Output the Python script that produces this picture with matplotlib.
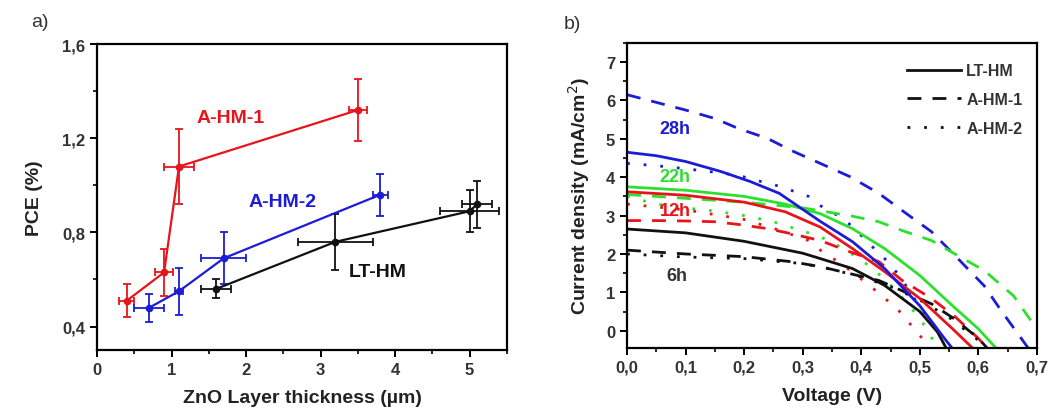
import matplotlib
matplotlib.use("Agg")
import matplotlib.pyplot as plt
from matplotlib.ticker import MultipleLocator

plt.rcParams.update({
    'font.family': ['Liberation Sans', 'DejaVu Sans'],
    'font.size': 11,
    'axes.linewidth': 1.6,
    'xtick.direction': 'out',
    'ytick.direction': 'out',
    'xtick.major.width': 1.4,
    'ytick.major.width': 1.4,
    'xtick.minor.width': 1.2,
    'ytick.minor.width': 1.2,
    'xtick.major.size': 5,
    'ytick.major.size': 5,
    'xtick.minor.size': 3,
    'ytick.minor.size': 3,
})

RED = '#e8141b'
BLUE = '#1c1cd6'
GREEN = '#2ee02e'
BLACK = '#111111'

# ---- panel a data: PCE vs ZnO thickness ----
hm1_x = [0.4, 0.9, 1.1, 3.5]
hm1_y = [0.51, 0.63, 1.08, 1.32]
hm1_xerr = [0.1, 0.12, 0.2, 0.12]
hm1_yerr = [0.07, 0.10, 0.16, 0.13]

hm2_x = [0.7, 1.1, 1.7, 3.8]
hm2_y = [0.48, 0.55, 0.69, 0.96]
hm2_xerr = [0.2, 0.05, 0.3, 0.1]
hm2_yerr = [0.06, 0.10, 0.11, 0.09]

lt_x = [1.6, 3.2, 5.0, 5.1]
lt_y = [0.56, 0.76, 0.89, 0.92]
lt_xerr = [0.2, 0.5, 0.4, 0.2]
lt_yerr = [0.04, 0.12, 0.09, 0.10]

# ---- panel b data: J-V curves ----
lt6_v = [0, 0.1, 0.2, 0.3, 0.33, 0.385, 0.44, 0.5, 0.53, 0.545]
lt6_j = [2.65, 2.55, 2.33, 2.02, 1.88, 1.62, 1.18, 0.5, -0.03, -0.45]
hm1_6_v = [0, 0.1, 0.2, 0.28, 0.33, 0.43, 0.47, 0.52, 0.56, 0.6, 0.615]
hm1_6_j = [2.1, 2.0, 1.93, 1.8, 1.67, 1.31, 1.04, 0.7, 0.3, -0.2, -0.45]
hm2_6_v = [0, 0.1, 0.2, 0.3, 0.35, 0.4, 0.45, 0.5, 0.55, 0.6, 0.61]
hm2_6_j = [2.0, 1.92, 1.88, 1.75, 1.6, 1.4, 1.15, 0.8, 0.35, -0.25, -0.45]

lt12_v = [0, 0.1, 0.2, 0.27, 0.33, 0.385, 0.44, 0.5, 0.556, 0.59]
lt12_j = [3.62, 3.53, 3.35, 3.1, 2.7, 2.14, 1.54, 0.84, 0.05, -0.45]
hm1_12_v = [0, 0.05, 0.1, 0.15, 0.19, 0.24, 0.28, 0.33, 0.38, 0.43, 0.47, 0.52, 0.56, 0.6, 0.615]
hm1_12_j = [2.87, 2.87, 2.86, 2.84, 2.77, 2.66, 2.53, 2.35, 2.06, 1.8, 1.31, 0.84, 0.37, -0.2, -0.45]
hm2_12_v = [0, 0.1, 0.2, 0.26, 0.31, 0.33, 0.37, 0.41, 0.44, 0.47, 0.49, 0.51, 0.52]
hm2_12_j = [3.3, 3.15, 2.9, 2.62, 2.35, 2.1, 1.7, 1.23, 0.85, 0.44, 0.05, -0.3, -0.45]

lt22_v = [0, 0.1, 0.2, 0.27, 0.33, 0.385, 0.44, 0.5, 0.556, 0.6, 0.63]
lt22_j = [3.75, 3.66, 3.5, 3.3, 3.05, 2.66, 2.14, 1.44, 0.65, 0.05, -0.45]
hm1_22_v = [0, 0.1, 0.2, 0.3, 0.38, 0.43, 0.47, 0.52, 0.56, 0.61, 0.66, 0.69, 0.71]
hm1_22_j = [3.55, 3.45, 3.35, 3.2, 3.0, 2.84, 2.61, 2.35, 2.0, 1.57, 0.91, 0.26, -0.1]
hm2_22_v = [0, 0.05, 0.1, 0.15, 0.2, 0.25, 0.3, 0.33, 0.36, 0.4, 0.44, 0.48, 0.51, 0.53]
hm2_22_j = [3.5, 3.3, 3.2, 3.12, 3.0, 2.84, 2.6, 2.45, 2.22, 1.85, 1.35, 0.7, 0.1, -0.45]

lt28_v = [0, 0.05, 0.1, 0.16, 0.21, 0.26, 0.33, 0.385, 0.44, 0.5, 0.54, 0.555]
lt28_j = [4.65, 4.56, 4.41, 4.15, 3.89, 3.58, 2.85, 2.32, 1.62, 0.65, -0.16, -0.45]
hm1_28_v = [0, 0.05, 0.1, 0.15, 0.19, 0.24, 0.28, 0.33, 0.38, 0.43, 0.47, 0.52, 0.56, 0.61, 0.64, 0.67, 0.685]
hm1_28_j = [6.15, 5.95, 5.75, 5.53, 5.27, 5.01, 4.7, 4.36, 4.02, 3.58, 3.13, 2.58, 1.96, 1.17, 0.5, -0.13, -0.45]
hm2_28_v = [0, 0.05, 0.1, 0.15, 0.19, 0.22, 0.25, 0.28, 0.31, 0.33, 0.36, 0.385, 0.41, 0.44, 0.465, 0.5, 0.525, 0.54]
hm2_28_j = [4.36, 4.3, 4.22, 4.13, 4.05, 3.92, 3.81, 3.66, 3.5, 3.26, 3.0, 2.72, 2.32, 1.88, 1.44, 0.62, 0.13, -0.2]

a_xticks = [0, 1, 2, 3, 4, 5]
a_yticks = [0.4, 0.8, 1.2, 1.6]
b_xticks = [0, 0.1, 0.2, 0.3, 0.4, 0.5, 0.6, 0.7]
b_yticks = [0, 1, 2, 3, 4, 5, 6, 7]

fig = plt.figure(figsize=(10.51, 4.14), dpi=100)
ax1 = fig.add_axes([0.0923, 0.152, 0.390, 0.739])
ax2 = fig.add_axes([0.5966, 0.157, 0.390, 0.737])

tick_kw = dict(fontsize=12, fontweight='bold', color='#333333')

# ---------------- panel a ----------------
for xs, ys, xe, ye, c in [(hm1_x, hm1_y, hm1_xerr, hm1_yerr, RED),
                          (hm2_x, hm2_y, hm2_xerr, hm2_yerr, BLUE),
                          (lt_x, lt_y, lt_xerr, lt_yerr, BLACK)]:
    ax1.errorbar(xs, ys, xerr=xe, yerr=ye, color=c, lw=1.6, elinewidth=1.3,
                 capsize=3, capthick=1.3, marker='o', ms=4.5)

ax1.text(1.79, 1.29, 'A-HM-1', color=RED, fontsize=14, fontweight='bold', ha='center', va='center')
ax1.text(2.49, 0.93, 'A-HM-2', color=BLUE, fontsize=14, fontweight='bold', ha='center', va='center')
ax1.text(3.77, 0.635, 'LT-HM', color=BLACK, fontsize=14, fontweight='bold', ha='center', va='center')

ax1.set_xlim(0, 5.5)
ax1.set_ylim(0.3, 1.6)
ax1.set_xticks(a_xticks)
ax1.set_xticklabels([str(t) for t in a_xticks], **tick_kw)
ax1.set_yticks(a_yticks)
ax1.set_yticklabels([f'{t:.1f}'.replace('.', ',') for t in a_yticks], **tick_kw)
ax1.xaxis.set_minor_locator(MultipleLocator(0.5))
ax1.yaxis.set_minor_locator(MultipleLocator(0.2))
ax1.set_xlabel('ZnO Layer thickness (µm)', fontsize=14, fontweight='bold', color='#222222', labelpad=9)
ax1.set_ylabel('PCE (%)', fontsize=14, fontweight='bold', color='#222222', labelpad=14)
fig.text(0.038, 0.945, 'a)', fontsize=14, ha='center', va='center', color='#333333')

# ---------------- panel b ----------------
dash = (0, (5, 4))
dot = (0, (1, 5))
curves = [
    (hm1_28_v, hm1_28_j, BLUE, dash), (hm2_28_v, hm2_28_j, BLUE, dot),
    (hm1_22_v, hm1_22_j, GREEN, dash), (hm2_22_v, hm2_22_j, GREEN, dot),
    (hm1_12_v, hm1_12_j, RED, dash), (hm2_12_v, hm2_12_j, RED, dot),
    (hm1_6_v, hm1_6_j, BLACK, dash), (hm2_6_v, hm2_6_j, BLACK, dot),
    (lt6_v, lt6_j, BLACK, '-'), (lt12_v, lt12_j, RED, '-'),
    (lt22_v, lt22_j, GREEN, '-'), (lt28_v, lt28_j, BLUE, '-'),
]
for v, j, c, ls in curves:
    ax2.plot(v, j, color=c, ls=ls, lw=2.0)

ax2.plot([], [], color=BLACK, ls='-', lw=2.0, label='LT-HM')
ax2.plot([], [], color=BLACK, ls=dash, lw=2.0, label='A-HM-1')
ax2.plot([], [], color=BLACK, ls=dot, lw=2.0, label='A-HM-2')
leg = ax2.legend(loc='upper right', frameon=False, handlelength=3.4, handletextpad=0.3,
                 labelspacing=0.85, prop={'weight': 'bold', 'size': 11.5},
                 bbox_to_anchor=(1.0, 0.98))
for t in leg.get_texts():
    t.set_color('#333333')

ax2.text(0.082, 5.27, '28h', color=BLUE, fontsize=13, fontweight='bold', ha='center', va='center')
ax2.text(0.082, 4.02, '22h', color=GREEN, fontsize=13, fontweight='bold', ha='center', va='center')
ax2.text(0.082, 3.13, '12h', color=RED, fontsize=13, fontweight='bold', ha='center', va='center')
ax2.text(0.085, 1.44, '6h', color='#333333', fontsize=13, fontweight='bold', ha='center', va='center')

ax2.set_xlim(0, 0.7)
ax2.set_ylim(-0.45, 7.5)
ax2.set_xticks(b_xticks)
ax2.set_xticklabels([f'{t:.1f}'.replace('.', ',') for t in b_xticks], **tick_kw)
ax2.set_yticks(b_yticks)
ax2.set_yticklabels([str(t) for t in b_yticks], **tick_kw)
ax2.xaxis.set_minor_locator(MultipleLocator(0.05))
ax2.yaxis.set_minor_locator(MultipleLocator(0.5))
ax2.set_xlabel('Voltage (V)', fontsize=14, fontweight='bold', color='#222222', labelpad=9)
ax2.set_ylabel('Current density (mA/cm$^2$)', fontsize=14, fontweight='bold', color='#222222', labelpad=10)
fig.text(0.545, 0.94, 'b)', fontsize=14, ha='center', va='center', color='#333333')

fig.savefig('out.png', dpi=100)
